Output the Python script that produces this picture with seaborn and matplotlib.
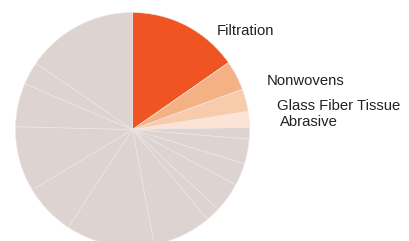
import matplotlib
matplotlib.use("Agg")
import matplotlib.pyplot as plt
import seaborn as sns

# share of each segment (percent), clockwise from 12 o'clock
segments = ["Filtration", "Nonwovens", "Glass Fiber Tissue", "Abrasive",
            "s5", "s6", "s7", "s8", "s9", "s10", "s11", "s12", "s13", "s14", "s15", "s16"]
shares = [15.3, 4.1, 3.1, 2.2, 1.6, 3.4, 3.1, 4.1, 2.0, 8.1, 12.2, 7.1, 9.0, 6.0, 3.2, 15.4]
labelled = ["Filtration", "Nonwovens", "Glass Fiber Tissue", "Abrasive"]

# colours for highlighted segments, the rest are grey
highlight_colors = ["#f05423", "#f4b183", "#f8ccab", "#fbe4d6"]
grey = "#ddd4d1"

# label anchor positions (data units, pie radius = 1)
label_pos = [(0.72, 0.808), (1.147, 0.38), (1.232, 0.167), (1.261, 0.026)]

sns.set_theme(style="white")
plt.rcParams["font.family"] = ["Liberation Sans", "DejaVu Sans"]

fig = plt.figure(figsize=(4.1, 2.41), dpi=100)
ax = fig.add_axes([0, 0, 1, 1])

colors = highlight_colors + [grey] * (len(shares) - len(highlight_colors))
ax.pie(shares, colors=colors, startangle=90, counterclock=False, radius=1,
       wedgeprops=dict(edgecolor="#ede7e5", linewidth=0.45))

for name, (x, y) in zip(labelled, label_pos):
    ax.text(x, y, name, ha="left", va="baseline", fontsize=10.7, color="#222222")

# 117 px per data unit, pie centre at (132.5, 129.5) px
ax.set_xlim(-132.5 / 117, (410 - 132.5) / 117)
ax.set_ylim((129.5 - 241) / 117, 129.5 / 117)
ax.set_aspect("auto")
ax.axis("off")

fig.savefig("out.png", dpi=100)
